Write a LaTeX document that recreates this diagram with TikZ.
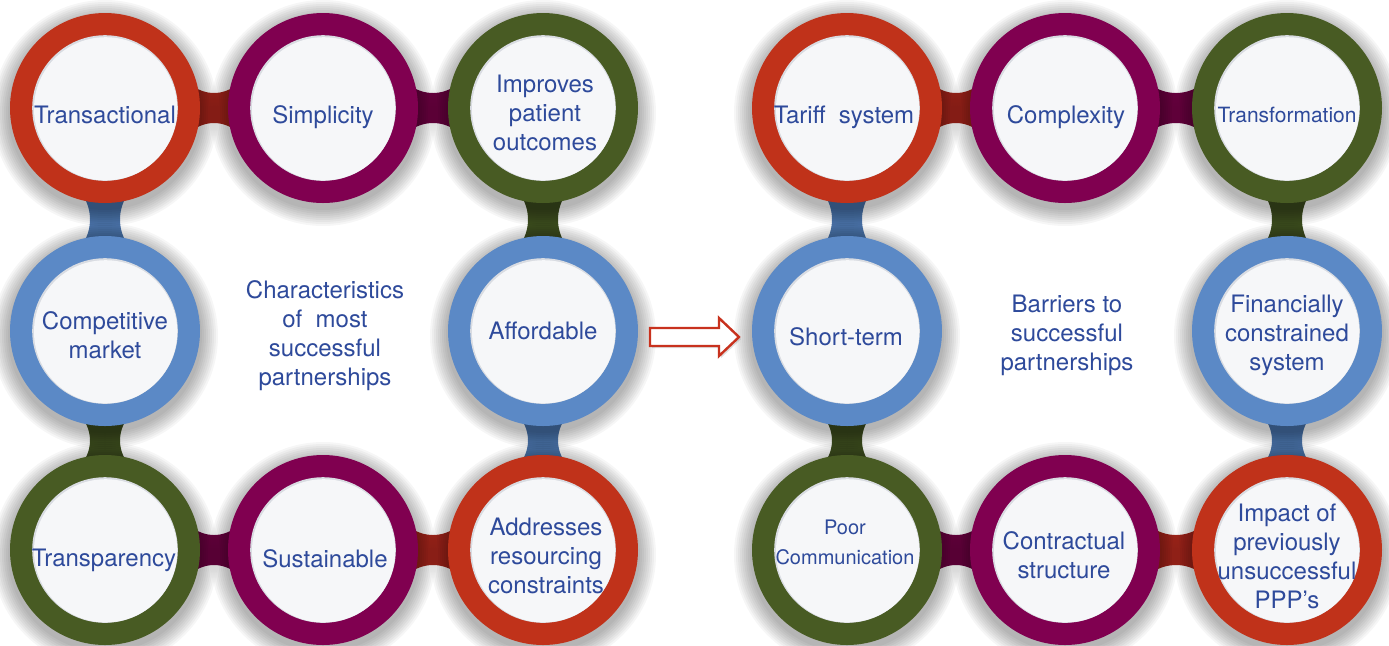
\documentclass[tikz,border=0pt]{standalone}
\usepackage{fontspec}
\setmainfont{TeX Gyre Heros}
\usetikzlibrary{calc}

\definecolor{ringred}{HTML}{C0321A}
\definecolor{ringpurple}{HTML}{800050}
\definecolor{ringgreen}{HTML}{485B23}
\definecolor{ringblue}{HTML}{5B89C6}
\definecolor{linkred}{HTML}{A1261A}
\definecolor{linkpurple}{HTML}{6B0042}
\definecolor{linkgreen}{HTML}{3D4D1E}
\definecolor{linkblue}{HTML}{4B74AA}
\definecolor{discfill}{HTML}{F6F7F9}
\definecolor{discedge}{HTML}{D9DCE2}
\definecolor{labelblue}{HTML}{2E4A9B}
\definecolor{arrowred}{HTML}{C8321E}

\pgfdeclarelayer{paper}
\pgfdeclarelayer{links}
\pgfdeclarelayer{shade}
\pgfsetlayers{paper,links,shade,main}

\tikzset{
  ring/.style={circle, minimum size=95pt, inner sep=0pt, fill=#1,
    path picture={
      \fill[discedge] (path picture bounding box.center) circle (36.4pt);
      \fill[discfill] ([xshift=0.3pt,yshift=-0.4pt]path picture bounding box.center) circle (35.8pt);
    }},
  lbl/.style={text=labelblue, align=center, inner sep=0pt,
    font=\fontsize{12}{14.5}\selectfont},
  bigarrow/.style={draw=arrowred, line width=1.2pt, fill=white, line join=miter},
}

% band between two rings side by side, pinched in the middle
\newcommand\hlink[3]{%
  \fill[#1] ($(#2.center)+(85,-24)$) .. controls ($(#2.center)+(100,-12)$) and ($(#3.center)+(-100,-12)$) .. ($(#3.center)+(-85,-24)$)
    -- ($(#3.center)+(-85,24)$) .. controls ($(#3.center)+(-100,12)$) and ($(#2.center)+(100,12)$) .. ($(#2.center)+(85,24)$) -- cycle;}
% band between two rings stacked vertically
\newcommand\vlink[3]{%
  \fill[#1] ($(#2.center)+(-24,85)$) .. controls ($(#2.center)+(-12,100)$) and ($(#3.center)+(-12,-100)$) .. ($(#3.center)+(-24,-85)$)
    -- ($(#3.center)+(24,-85)$) .. controls ($(#3.center)+(12,-100)$) and ($(#2.center)+(12,100)$) .. ($(#2.center)+(24,85)$) -- cycle;}

\begin{document}
\begin{tikzpicture}[x=0.5pt,y=-0.5pt]
\useasboundingbox (0,0) rectangle (1389,645);
\begin{pgfonlayer}{paper}
  \fill[white] (0,0) rectangle (1389,645);
\end{pgfonlayer}

% ---- characteristics loop ----
\node[ring=ringred]    (tr) at (105,108) {};
\node[ring=ringpurple] (si) at (323,108) {};
\node[ring=ringgreen]  (im) at (543,108) {};
\node[ring=ringblue]   (co) at (105,331) {};
\node[ring=ringblue]   (af) at (543,331) {};
\node[ring=ringgreen]  (tp) at (105,550) {};
\node[ring=ringpurple] (su) at (323,550) {};
\node[ring=ringred]    (ad) at (543,550) {};

% ---- barriers loop ----
\node[ring=ringred]    (ta) at (847,108) {};
\node[ring=ringpurple] (cx) at (1065,108) {};
\node[ring=ringgreen]  (tf) at (1287,108) {};
\node[ring=ringblue]   (st) at (847,331) {};
\node[ring=ringblue]   (fi) at (1287,331) {};
\node[ring=ringgreen]  (pc) at (847,550) {};
\node[ring=ringpurple] (cs) at (1065,550) {};
\node[ring=ringred]    (ip) at (1287,550) {};

% soft drop shadow under every ring
\begin{pgfonlayer}{shade}
  \foreach \n in {tr,si,im,co,af,tp,su,ad,ta,cx,tf,st,fi,pc,cs,ip}
    \foreach \r in {48.5,49.5,...,56.5}
      \fill[black, fill opacity=0.035] ($(\n.center)+(0,5)$) circle (\r pt);
\end{pgfonlayer}

\begin{pgfonlayer}{links}
  \hlink{linkred}{tr}{si}
  \hlink{linkpurple}{si}{im}
  \vlink{linkgreen}{im}{af}
  \vlink{linkblue}{af}{ad}
  \hlink{linkred}{su}{ad}
  \hlink{linkpurple}{tp}{su}
  \vlink{linkgreen}{co}{tp}
  \vlink{linkblue}{tr}{co}

  \hlink{linkred}{ta}{cx}
  \hlink{linkpurple}{cx}{tf}
  \vlink{linkgreen}{tf}{fi}
  \vlink{linkblue}{fi}{ip}
  \hlink{linkred}{cs}{ip}
  \hlink{linkpurple}{pc}{cs}
  \vlink{linkgreen}{st}{pc}
  \vlink{linkblue}{ta}{st}
\end{pgfonlayer}

% ---- ring labels ----
\node[lbl] (tr-t) at (105,115) {Transactional};
\node[lbl] (si-t) at (323,117) {Simplicity};
\node[lbl] (im-t) at (545,113) {Improves\\patient\\outcomes};
\node[lbl] (co-t) at (105,335) {Competitive\\market};
\node[lbl] (af-t) at (543,331) {Affordable};
\node[lbl] (tp-t) at (104,560) {Transparency};
\node[lbl] (su-t) at (325,559) {Sustainable};
\node[lbl] (ad-t) at (546,556) {Addresses\\resourcing\\constraints};

\node[lbl] (ta-t) at (844,117) {Tariff\ \ system};
\node[lbl] (cx-t) at (1066,117) {Complexity};
\node[lbl, font=\fontsize{10.5}{13}\selectfont] (tf-t) at (1287,115) {Transformation};
\node[lbl] (st-t) at (846,337) {Short-term};
\node[lbl] (fi-t) at (1287,335) {Financially\\constrained\\system};
\node[lbl, font=\fontsize{10}{15}\selectfont] (pc-t) at (845,542) {Poor\\Communication};
\node[lbl] (cs-t) at (1064,555) {Contractual\\structure};
\node[lbl] (ip-t) at (1287,556) {Impact of\\previously\\unsuccessful\\PPP’s};

% ---- centre captions ----
\node[lbl] (left-cap)  at (325,336) {Characteristics\\of\ \ most\\successful\\partnerships};
\node[lbl] (right-cap) at (1067,335) {Barriers to\\successful\\partnerships};

% ---- arrow from one loop to the other ----
\fill[black, fill opacity=0.12] (652,330) -- (721,330) -- (721,320) -- (741,339) -- (721,358) -- (721,348) -- (652,348) -- cycle;
\draw[bigarrow] (650,328) -- (719,328) -- (719,318) -- (739,337) -- (719,356) -- (719,346) -- (650,346) -- cycle;
\end{tikzpicture}
\end{document}
